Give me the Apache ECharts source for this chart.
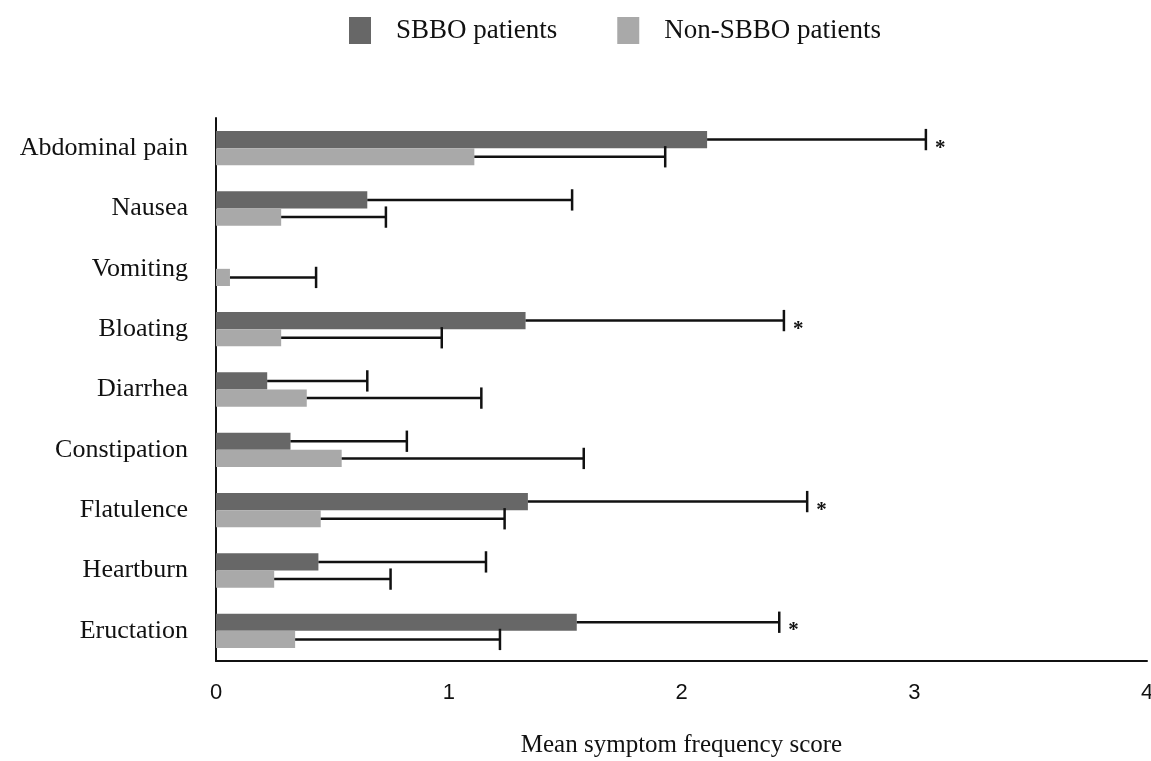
<!DOCTYPE html>
<html>
<head>
<meta charset="utf-8">
<script src="https://cdn.jsdelivr.net/npm/echarts@6/dist/echarts.min.js"></script>
<style>
  html, body { margin: 0; padding: 0; background: #fff; }
  #my_chart { width: 1151px; height: 761px; }
</style>
</head>
<body>
<div id="my_chart"></div>
<script>
// 症状类别
var categories = ['Abdominal pain', 'Nausea', 'Vomiting', 'Bloating', 'Diarrhea',
  'Constipation', 'Flatulence', 'Heartburn', 'Eructation'];
// SBBO 组均值与标准差
var sbboMean = [2.11, 0.65, 0, 1.33, 0.22, 0.32, 1.34, 0.44, 1.55];
var sbboSd = [0.94, 0.88, 0, 1.11, 0.43, 0.50, 1.20, 0.72, 0.87];
// 非 SBBO 组均值与标准差
var nonMean = [1.11, 0.28, 0.06, 0.28, 0.39, 0.54, 0.45, 0.25, 0.34];
var nonSd = [0.82, 0.45, 0.37, 0.69, 0.75, 1.04, 0.79, 0.50, 0.88];
// 有显著差异的类别（星号）
var significant = ['Abdominal pain', 'Bloating', 'Flatulence', 'Eructation'];
var xTicks = [0, 1, 2, 3, 4];

var catGap = 0.43; // barCategoryGap
var serif = '"Liberation Serif", "DejaVu Serif", serif';
var narrow = '"Liberation Sans Narrow", "Liberation Sans", sans-serif';

function errData(means, sds) {
  return categories.map(function (c, i) {
    return [means[i], i, sds[i], significant.indexOf(c) >= 0 ? 1 : 0];
  });
}

function errRender(group, withStar) {
  return function (params, api) {
    var mean = api.value(0), idx = api.value(1), sd = api.value(2);
    var band = api.size([0, 1])[1];
    var bw = band * (1 - catGap) / 2;
    var off = group === 0 ? -bw / 2 : bw / 2;
    var p0 = api.coord([mean, idx]);
    var p1 = api.coord([mean + sd, idx]);
    var y = p0[1] + off;
    var children = [];
    if (sd > 0) {
      children.push({
        type: 'line',
        shape: { x1: p0[0], y1: y, x2: p1[0], y2: y },
        style: { stroke: '#111', lineWidth: 2.5 }
      });
      children.push({
        type: 'line',
        shape: { x1: p1[0], y1: y - bw * 0.62, x2: p1[0], y2: y + bw * 0.62 },
        style: { stroke: '#111', lineWidth: 2.5 }
      });
    }
    if (withStar && api.value(3) === 1) {
      children.push({
        type: 'text',
        style: {
          text: '*', x: p1[0] + 9, y: p0[1],
          fill: '#111', font: 'bold 21px ' + serif,
          align: 'left', verticalAlign: 'middle'
        }
      });
    }
    return { type: 'group', children: children };
  };
}

var chart = echarts.init(document.getElementById('my_chart'));
var option = {
  animation: false,
  backgroundColor: '#fff',
  legend: {
    top: 12,
    left: 344,
    itemWidth: 22,
    itemHeight: 27,
    itemGap: 60,
    icon: 'rect',
    data: ['SBBO patients', 'Non-SBBO patients'],
    textStyle: { fontFamily: serif, fontSize: 27, color: '#111', padding: [0, 0, 0, 20] }
  },
  grid: { left: 216, right: 4, top: 118, bottom: 100, containLabel: false, outerBoundsMode: 'none' },
  xAxis: {
    type: 'value',
    min: xTicks[0],
    max: xTicks[xTicks.length - 1],
    interval: 1,
    name: 'Mean symptom frequency score',
    nameLocation: 'middle',
    nameGap: 72,
    nameTextStyle: { fontFamily: serif, fontSize: 25, color: '#111' },
    axisLine: { show: true, lineStyle: { color: '#111', width: 2 } },
    axisTick: { show: false },
    splitLine: { show: false },
    axisLabel: { margin: 21, fontFamily: narrow, fontSize: 22, color: '#111' }
  },
  yAxis: {
    type: 'category',
    inverse: true,
    data: categories,
    axisLine: { show: true, lineStyle: { color: '#111', width: 2 } },
    axisTick: { show: false },
    axisLabel: { margin: 28, fontFamily: serif, fontSize: 26, color: '#111' }
  },
  series: [
    {
      name: 'SBBO patients',
      type: 'bar',
      data: sbboMean,
      barGap: '0%',
      barCategoryGap: (catGap * 100) + '%',
      itemStyle: { color: '#676767' }
    },
    {
      name: 'Non-SBBO patients',
      type: 'bar',
      data: nonMean,
      itemStyle: { color: '#a9a9a9' }
    },
    {
      type: 'custom',
      renderItem: errRender(0, true),
      encode: { x: 0, y: 1 },
      data: errData(sbboMean, sbboSd),
      z: 5
    },
    {
      type: 'custom',
      renderItem: errRender(1, false),
      encode: { x: 0, y: 1 },
      data: errData(nonMean, nonSd),
      z: 5
    }
  ]
};
chart.setOption(option);
</script>
</body>
</html>
